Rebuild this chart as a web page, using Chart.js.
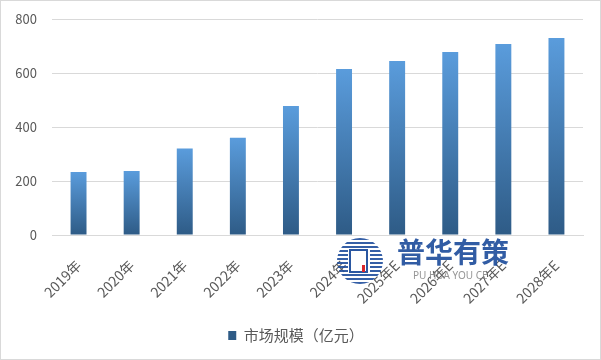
<!DOCTYPE html>
<html>
<head>
<meta charset="utf-8">
<script src="https://cdn.jsdelivr.net/npm/chart.js@4"></script>
<style>
  html, body { margin: 0; padding: 0; background: #fff; }
  #wrap { position: relative; width: 599px; height: 358px; border: 1px solid #d9d9d9; }
</style>
</head>
<body>
<div id="wrap"><canvas id="marketChart" width="599" height="358"></canvas></div>
<script>
const years = ['2019年', '2020年', '2021年', '2022年', '2023年', '2024年', '2025年E', '2026年E', '2027年E', '2028年E'];
const marketSize = [233, 237, 320, 360, 478, 615, 644, 678, 707, 730];
const yTicks = [0, 200, 400, 600, 800];
const seriesName = '市场规模（亿元）';

const fontFamily = '"Microsoft YaHei", "Noto Sans CJK SC", "DejaVu Sans", sans-serif';

function barGradient(context) {
  const chart = context.chart;
  const { ctx, chartArea, scales } = chart;
  if (!chartArea) return '#4a86c5';
  let top = chartArea.top, bottom = chartArea.bottom;
  if (context.type === 'data') {
    top = scales.y.getPixelForValue(context.raw);
    bottom = scales.y.getPixelForValue(0);
  }
  const g = ctx.createLinearGradient(0, top, 0, bottom);
  g.addColorStop(0, '#5a9cdc');
  g.addColorStop(1, '#2e5b86');
  return g;
}

// watermark logo over the axis labels
const watermark = {
  id: 'watermark',
  afterDraw(chart) {
    const ctx = chart.ctx;
    const cx = 359, cy = 260, r = 23;
    ctx.save();
    ctx.beginPath();
    ctx.arc(cx, cy, r, 0, Math.PI * 2);
    ctx.clip();
    ctx.fillStyle = 'rgba(31, 78, 156, 0.9)';
    for (let y = cy - r; y < cy + r; y += 4) {
      ctx.fillRect(cx - r, y, r * 2, 2);
    }
    ctx.restore();
    ctx.save();
    ctx.fillStyle = '#fff';
    ctx.fillRect(cx - 12, cy - 13, 22, 26);
    ctx.strokeStyle = 'rgba(31, 78, 156, 0.95)';
    ctx.lineWidth = 2;
    ctx.strokeRect(cx - 10, cy - 11, 17, 22);
    ctx.fillStyle = '#d7262b';
    ctx.fillRect(cx + 2, cy + 4, 3, 7);
    ctx.fillStyle = 'rgba(31, 78, 156, 0.92)';
    ctx.font = 'bold 28px "Noto Sans CJK SC", sans-serif';
    ctx.textBaseline = 'middle';
    ctx.fillText('普华有策', 396, 251);
    ctx.fillStyle = 'rgba(130, 130, 130, 0.85)';
    ctx.font = '10px "Noto Sans", sans-serif';
    ctx.fillText('PU HUA YOU CE', 412, 275);
    ctx.restore();
  }
};

new Chart(document.getElementById('marketChart'), {
  type: 'bar',
  data: {
    labels: years,
    datasets: [{
      label: seriesName,
      data: marketSize,
      backgroundColor: barGradient,
      borderWidth: 0,
      categoryPercentage: 1,
      barPercentage: 0.3
    }]
  },
  options: {
    responsive: false,
    animation: false,
    layout: { padding: { top: 18, right: 17, left: 8, bottom: 6 } },
    scales: {
      x: {
        grid: { display: false },
        border: { color: '#d9d9d9' },
        afterFit(scale) { scale.height = 80; },
        ticks: {
          color: '#595959',
          font: { family: fontFamily, size: 14 },
          maxRotation: 45,
          minRotation: 45,
          padding: 14
        }
      },
      y: {
        min: 0,
        max: 800,
        afterBuildTicks(scale) {
          scale.ticks = yTicks.map(v => ({ value: v }));
        },
        afterFit(scale) {
          scale.width = 43;
          scale.paddingTop = 0;
          scale.paddingBottom = 0;
        },
        grid: { color: '#d9d9d9', drawTicks: false },
        border: { display: false },
        ticks: {
          color: '#595959',
          font: { family: fontFamily, size: 13 },
          padding: 15
        }
      }
    },
    plugins: {
      legend: {
        position: 'bottom',
        labels: {
          color: '#595959',
          font: { family: fontFamily, size: 15 },
          boxWidth: 8,
          boxHeight: 9,
          padding: 13
        }
      },
      tooltip: { enabled: false }
    }
  },
  plugins: [watermark]
});
</script>
</body>
</html>
